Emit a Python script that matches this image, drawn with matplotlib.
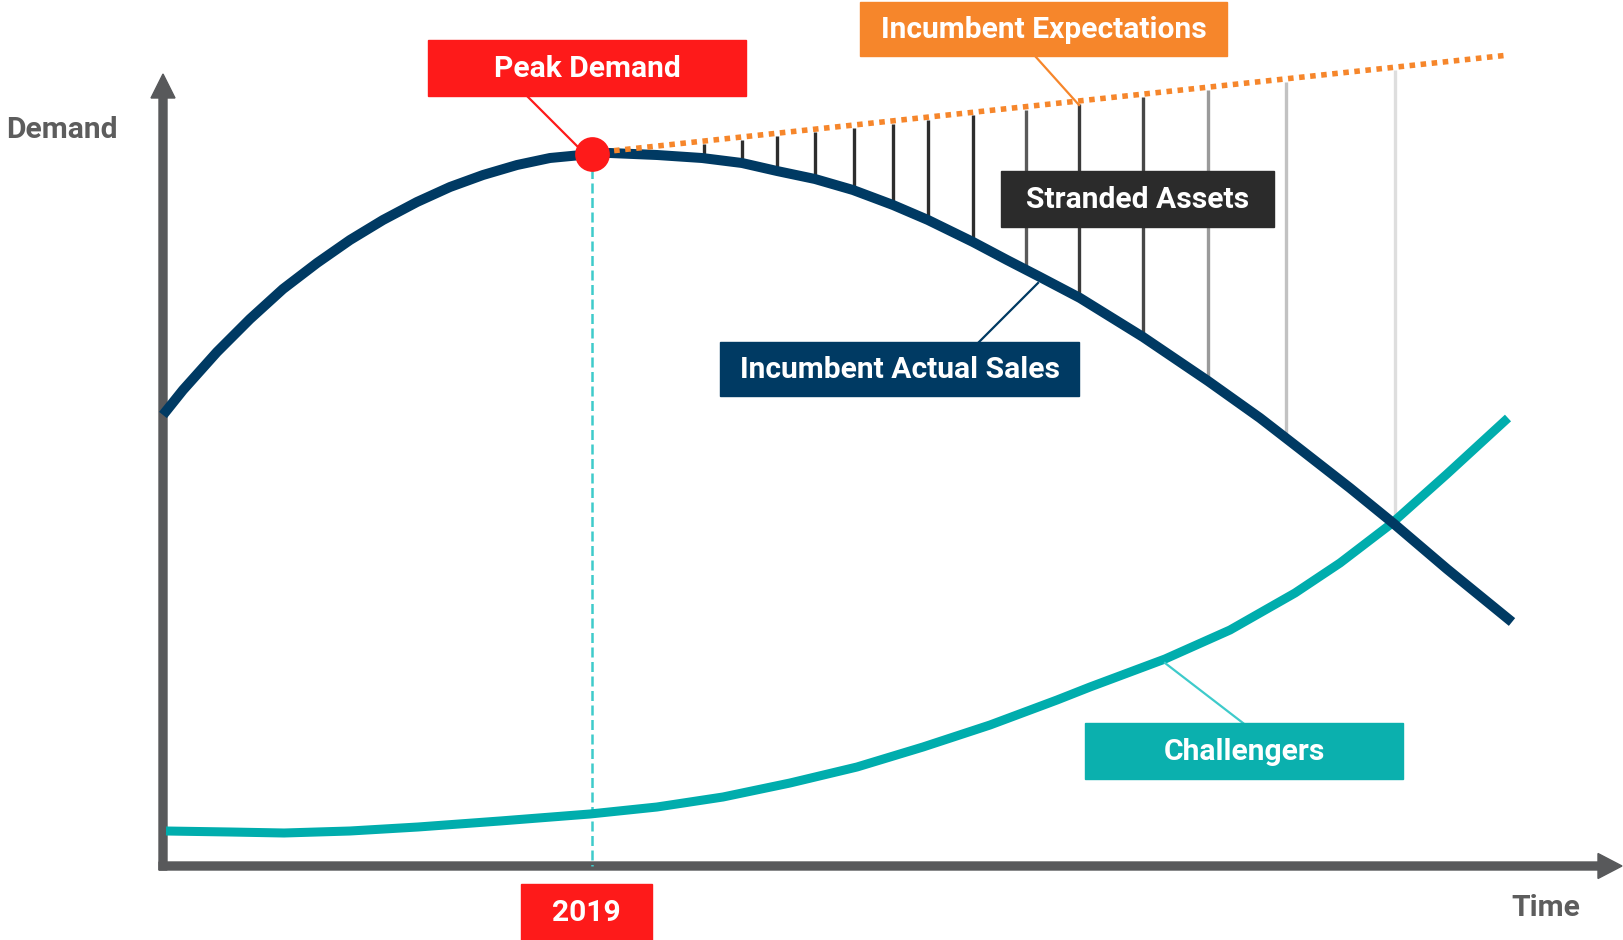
import matplotlib
import matplotlib.pyplot as plt
import numpy as np
from matplotlib.patches import Rectangle

matplotlib.use('Agg')

# curve points (image pixel units, y grows downward)
actual_x = [163, 183, 217, 250, 283, 317, 350, 383, 417, 450, 483, 517, 550, 592,
            610, 657, 702, 742, 777, 815, 853, 893, 928, 973, 1007, 1040, 1080,
            1143, 1208, 1260, 1300, 1350, 1393, 1447, 1512]
actual_y = [415, 390, 352, 319, 289, 263, 240, 220, 202, 187, 175, 165, 158, 154,
            153, 155, 158, 163, 171, 179, 190, 205, 220, 242, 260, 277, 298,
            337, 381, 418, 449, 488, 523, 569, 622]

challenger_x = [166, 230, 284, 350, 418, 500, 590, 657, 723, 790, 857, 923, 990,
                1057, 1090, 1165, 1230, 1295, 1340, 1391, 1447, 1508]
challenger_y = [831, 832, 833, 831, 827, 821, 814, 807, 797, 783, 767, 747, 725,
                700, 687, 659, 630, 593, 563, 524, 474, 418]

expect_x = [592, 1509]
expect_y = [153, 55]

peak_x, peak_y = 592, 154

stranded_x = [704, 742, 777, 815, 854, 893, 928, 973, 1026, 1079, 1143, 1208, 1286, 1395]
stranded_col = ['#2d2d2d'] * 8 + ['#5a5a5a', '#3a3a3a', '#474747', '#9a9a9a', '#c2c2c2', '#dedede']

NAVY = '#003a63'
TEAL = '#00adad'
RED = '#fe1a1a'
ORANGE = '#f6862b'
GRAY = '#58595b'

fig = plt.figure(figsize=(16.23, 9.40), dpi=100)
ax = fig.add_axes([0, 0, 1, 1])
ax.set_xlim(0, 1623)
ax.set_ylim(940, 0)
ax.axis('off')

# stranded assets: gap between expectations and actual sales
top = np.interp(stranded_x, expect_x, expect_y)
bot = np.interp(stranded_x, actual_x, actual_y)
for x, t, b, c in zip(stranded_x, top, bot, stranded_col):
    ax.plot([x, x], [t + 3, b], color=c, lw=2.4, zorder=2, solid_capstyle='butt')

# 2019 marker line
ax.plot([peak_x, peak_x], [peak_y, 866], color='#3ecbcb', lw=1.8,
        dashes=(4, 1.8), zorder=2)

ax.plot(challenger_x, challenger_y, color=TEAL, lw=6.5, zorder=3,
        solid_capstyle='butt', solid_joinstyle='round')
ax.plot(actual_x, actual_y, color=NAVY, lw=7.2, zorder=4,
        solid_capstyle='butt', solid_joinstyle='round')
ax.plot(expect_x, expect_y, color=ORANGE, lw=4.0, linestyle=(0, (1, 1)), zorder=5)
ax.plot([peak_x], [peak_y], 'o', color=RED, ms=25, mec='none', zorder=6)

# axes arrows
ax.arrow(163, 870, 0, -796, width=8, head_width=24, head_length=24,
         length_includes_head=True, color=GRAY, zorder=1)
ax.arrow(159, 866, 1463, 0, width=8, head_width=25, head_length=24,
         length_includes_head=True, color=GRAY, zorder=1)

txt = dict(family='Roboto', weight='bold', fontsize=21.6)
ax.text(6, 130, 'Demand', color='#5d5d5d', ha='left', va='center', **txt)
ax.text(1546, 908, 'Time', color='#5d5d5d', ha='center', va='center', **txt)

# connector lines
ax.plot([527, 578], [96, 147], color=RED, lw=1.6, zorder=5)
ax.plot([1035, 1079], [56, 105], color=ORANGE, lw=1.6, zorder=5)
ax.plot([979, 1038], [342, 283], color=NAVY, lw=1.6, zorder=5)
ax.plot([1243, 1165], [723, 663], color='#3ecbcb', lw=1.6, zorder=5)

# label boxes: (text, x0, y0, x1, y1, colour)
boxes = [
    ('Peak Demand', 428, 40, 746, 96, RED),
    ('Incumbent Expectations', 860, 2, 1227, 56, ORANGE),
    ('Stranded Assets', 1001, 171, 1274, 227, '#2b2b2b'),
    ('Incumbent Actual Sales', 720, 342, 1079, 396, NAVY),
    ('Challengers', 1085, 723, 1403, 779, '#0bb0ae'),
    ('2019', 521, 884, 652, 940, RED),
]
for label, x0, y0, x1, y1, c in boxes:
    ax.add_patch(Rectangle((x0, y0), x1 - x0, y1 - y0, color=c, zorder=7))
    ax.text((x0 + x1) / 2, (y0 + y1) / 2 + 1, label, color='white',
            ha='center', va='center', zorder=8, **txt)

plt.savefig('out.png', dpi=100)
